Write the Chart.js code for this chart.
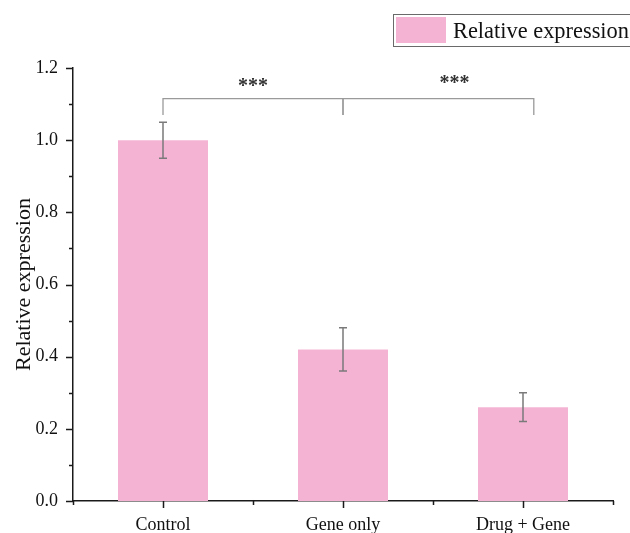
<!DOCTYPE html>
<html>
<head>
<meta charset="utf-8">
<script src="https://cdn.jsdelivr.net/npm/chart.js@4/dist/chart.umd.min.js"></script>
<style>
  html, body { margin: 0; padding: 0; background: #fff; }
  #wrap { width: 630px; height: 533px; position: relative; }
</style>
</head>
<body>
<div id="wrap"><canvas id="chart"></canvas></div>
<script>
// Groups and measured expression (mean ± SD)
const categories = ['Control', 'Gene only', 'Drug + Gene'];
const means = [1.0, 0.42, 0.26];
const errors = [0.05, 0.06, 0.04];
const seriesLabel = 'Relative expression';

// Axis range and tick spacing
const yMin = 0;
const yMax = 1.2;
const yMajorStep = 0.2;
const yMinorStep = 0.1;

// Significance brackets between groups
const brackets = [
  { from: 0, to: 1, level: 1.115, drop: 1.07, text: '***', textAt: 0.5, textLevel: 1.147 },
  { from: 1, to: 2.06, level: 1.115, drop: 1.07, text: '***', textAt: 1.62, textLevel: 1.157 }
];

const barColor = '#F5B3D4';
const serif = '"Liberation Serif", "Times New Roman", serif';

const decorations = {
  id: 'decorations',
  afterDatasetsDraw(chart) {
    const ctx = chart.ctx;
    const x = chart.scales.x, y = chart.scales.y;
    ctx.save();

    // error bars
    ctx.strokeStyle = '#7a7a7a';
    ctx.lineWidth = 1.5;
    means.forEach((m, i) => {
      const px = x.getPixelForValue(i);
      const top = y.getPixelForValue(m + errors[i]);
      const bot = y.getPixelForValue(m - errors[i]);
      ctx.beginPath();
      ctx.moveTo(px, top); ctx.lineTo(px, bot);
      ctx.moveTo(px - 4, top); ctx.lineTo(px + 4, top);
      ctx.moveTo(px - 4, bot); ctx.lineTo(px + 4, bot);
      ctx.stroke();
    });

    // significance brackets
    ctx.strokeStyle = '#9a9a9a';
    ctx.lineWidth = 1.3;
    brackets.forEach(b => {
      const x1 = x.getPixelForValue(b.from), x2 = x.getPixelForValue(b.to);
      const yl = y.getPixelForValue(b.level), yd = y.getPixelForValue(b.drop);
      ctx.beginPath();
      ctx.moveTo(x1, yd); ctx.lineTo(x1, yl); ctx.lineTo(x2, yl); ctx.lineTo(x2, yd);
      ctx.stroke();
    });
    ctx.fillStyle = '#333';
    ctx.font = 'bold 20px ' + serif;
    ctx.textAlign = 'center';
    ctx.textBaseline = 'middle';
    brackets.forEach(b => {
      ctx.fillText(b.text, x.getPixelForValue(b.textAt), y.getPixelForValue(b.textLevel));
    });
    ctx.restore();
  },
  afterDraw(chart) {
    const ctx = chart.ctx;
    const x = chart.scales.x, y = chart.scales.y;
    const area = chart.chartArea;
    ctx.save();
    ctx.strokeStyle = '#1a1a1a';
    ctx.lineWidth = 1.5;
    ctx.beginPath();
    // y-axis ticks (outward)
    for (let v = yMin; v <= yMax + 1e-9; v += yMinorStep) {
      const py = Math.round(y.getPixelForValue(v)) + 0.5;
      const isMajor = Math.abs(v / yMajorStep - Math.round(v / yMajorStep)) < 1e-6;
      const len = isMajor ? 7 : 4;
      ctx.moveTo(area.left, py); ctx.lineTo(area.left - len, py);
    }
    // x-axis ticks: major at group centres, minor at group boundaries
    categories.forEach((c, i) => {
      const px = Math.round(x.getPixelForValue(i)) + 0.5;
      ctx.moveTo(px, area.bottom); ctx.lineTo(px, area.bottom + 7);
    });
    for (let i = 0; i <= categories.length; i++) {
      const px = Math.round(x.getPixelForValue(i - 0.5)) + 0.5;
      ctx.moveTo(px, area.bottom); ctx.lineTo(px, area.bottom + 4);
    }
    ctx.stroke();

    // legend
    ctx.strokeStyle = '#6a6a6a';
    ctx.lineWidth = 1;
    ctx.strokeRect(393.5, 14.5, 260, 32);
    ctx.fillStyle = barColor;
    ctx.fillRect(396, 17, 50, 26);
    ctx.fillStyle = '#111';
    ctx.font = '22.4px ' + serif;
    ctx.textAlign = 'left';
    ctx.textBaseline = 'alphabetic';
    ctx.fillText(seriesLabel, 453, 38);
    ctx.restore();
  }
};

new Chart(document.getElementById('chart'), {
  type: 'bar',
  data: {
    labels: categories,
    datasets: [{
      label: seriesLabel,
      data: means,
      backgroundColor: barColor,
      borderWidth: 0,
      categoryPercentage: 1.0,
      barPercentage: 0.5
    }]
  },
  options: {
    responsive: true,
    maintainAspectRatio: false,
    animation: false,
    devicePixelRatio: 1,
    layout: { padding: { top: 68, right: 17, left: 0, bottom: 0 } },
    plugins: { legend: { display: false }, tooltip: { enabled: false } },
    scales: {
      x: {
        type: 'category',
        offset: true,
        grid: { display: false, drawTicks: false },
        border: { display: true, color: '#1a1a1a', width: 1.5 },
        ticks: { color: '#111', font: { family: serif, size: 18 }, padding: 13, maxRotation: 0 },
        afterFit(scale) { scale.height = 32; scale.paddingLeft = 0; scale.paddingRight = 0; }
      },
      y: {
        min: yMin,
        max: yMax,
        grid: { display: false, drawTicks: false },
        border: { display: true, color: '#1a1a1a', width: 1.5 },
        ticks: {
          stepSize: yMajorStep,
          color: '#111',
          font: { family: serif, size: 18 },
          padding: 15,
          callback: v => Number(v).toFixed(1)
        },
        title: {
          display: true,
          text: seriesLabel,
          color: '#111',
          font: { family: serif, size: 22 },
          padding: { top: 11, bottom: 0 }
        },
        afterFit(scale) { scale.width = 73; scale.paddingTop = 0; scale.paddingBottom = 0; }
      }
    }
  },
  plugins: [decorations]
});
</script>
</body>
</html>
